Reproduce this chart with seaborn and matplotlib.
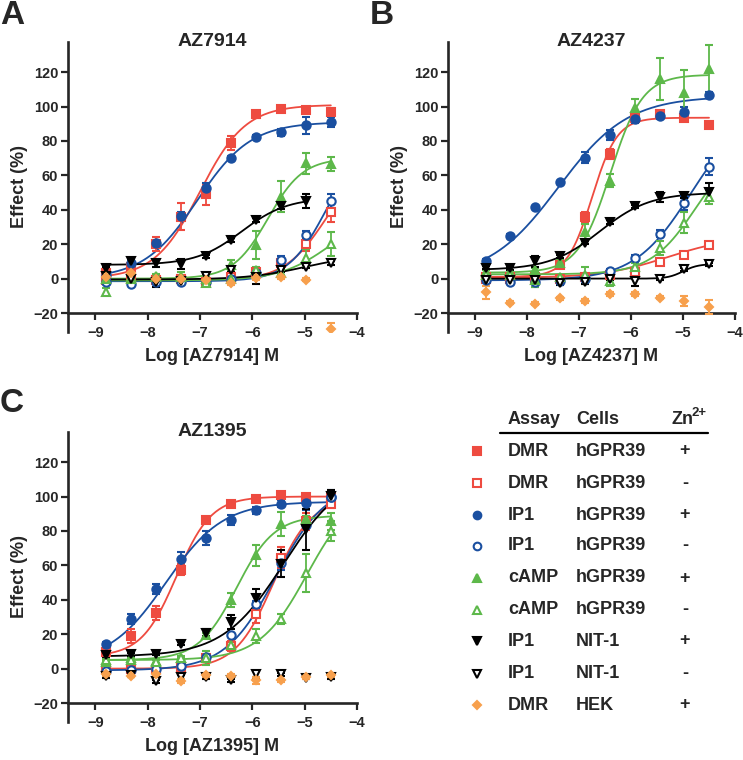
import numpy as np
import pandas as pd
import seaborn as sns
import matplotlib.pyplot as plt
from matplotlib.lines import Line2D

sns.set_style('ticks')
plt.rcParams['font.family'] = ['Liberation Sans', 'DejaVu Sans']
plt.rcParams['font.weight'] = 'bold'
plt.rcParams['axes.labelweight'] = 'bold'

# log concentrations (3-fold dilutions from 31.6 uM)
LOGC = [-8.79, -8.32, -7.84, -7.36, -6.89, -6.41, -5.93, -5.45, -4.98, -4.5]

SERIES = ['DMR_P', 'DMR_N', 'IP1_P', 'IP1_N', 'CAMP_P', 'CAMP_N', 'NIT_P', 'NIT_N', 'HEK']
ASSAY = ['DMR', 'DMR', 'IP1', 'IP1', 'cAMP', 'cAMP', 'IP1', 'IP1', 'DMR']
CELLS = ['hGPR39', 'hGPR39', 'hGPR39', 'hGPR39', 'hGPR39', 'hGPR39', 'NIT-1', 'NIT-1', 'HEK']
ZINC = ['+', '-', '+', '-', '+', '-', '+', '-', '+']

RED, BLUE, GREEN, ORANGE = '#EE4B40', '#1A4FA0', '#5DB84A', '#F7A04D'
COLORS = [RED, RED, BLUE, BLUE, GREEN, GREEN, 'black', 'black', ORANGE]
MARKERS = ['s', 's', 'o', 'o', '^', '^', 'v', 'v', 'D']
FILLED = [True, False, True, False, True, False, True, False, True]

nan = np.nan

# ---- panel A: AZ7914
A_DMR_P = [3, 7, 20, 36, 49, 79, 95.5, 98.4, 98, 97]
A_DMR_N = [-1, 0, -1, 0, -2, 1, 4, 9, 20, 39]
A_IP1_P = [2, 9, 20.6, 36.5, 52.5, 70.3, 82.5, 85, 89, 91]
A_IP1_N = [-2, -3, -2, -2, -2, 0, 3, 11, 25.5, 45]
A_CAMP_P = [0, 1, 1.8, 1, 0, 8, 19.6, 47.7, 67, 66.4]
A_CAMP_N = [-7.5, 0, 1, 1, -2.4, 0, 5, 3, 12, 20]
A_NIT_P = [6, 10, 9, 8.6, 13, 22.5, 34, 42.5, 45, nan]
A_NIT_N = [1.5, -0.4, -2, -1.3, 1.5, 5, 1, 5, 7, 9]
A_HEK = [1, 3, 0, 0, -1, -2.5, 0.5, 1, -0.5, -29.5]
A_ERR = {
    'DMR_P': [1, 2, 4, 8, 6, 4, 2, 1, 2, 2],
    'DMR_N': [1, 1, 1, 1, 1, 1, 2, 2, 4, 6],
    'IP1_P': [1, 2, 2, 2, 3, 1, 1, 2, 5, 3],
    'IP1_N': [1, 1, 1, 1, 1, 1, 2, 2, 2, 4],
    'CAMP_P': [1, 1, 1, 1, 1, 3, 8, 9, 6, 4],
    'CAMP_N': [2, 1, 1, 3, 1, 1, 2, 2, 5, 7],
    'NIT_P': [1, 2, 2, 3, 1, 1, 1, 2, 4, nan],
    'NIT_N': [1, 1, 3, 1, 1, 1, 4, 1, 1, 1],
    'HEK': [1, 1, 1, 1, 1, 1, 1, 1, 1, 4],
}
# fitted curve parameters: bottom, top, logEC50, hill
A_FIT = {
    'DMR_P': (0, 101, -7.0, 1.0),
    'DMR_N': (-1, 70, -4.6, 1.1),
    'IP1_P': (0, 91, -7.05, 0.85),
    'IP1_N': (-1.5, 80, -4.6, 1.2),
    'CAMP_P': (0, 70, -5.7, 1.3),
    'CAMP_N': (-1, 40, -4.5, 0.9),
    'NIT_P': (8, 47, -6.2, 1.0),
    'NIT_N': (-0.5, 14, -5.0, 0.8),
}

# ---- panel B: AZ4237
B_DMR_P = [1, 1, 1, 8, 36, 72.4, 93.6, 95.4, 93.6, 89]
B_DMR_N = [0, 0, 0, 0, 1, 2, 4, 9.7, 13.7, 19.5]
B_IP1_P = [10.5, 24.8, 41.5, 56, 70.3, 83.5, 92.7, 94.5, 96.6, 106.7]
B_IP1_N = [-1, -2, -2, -1.3, 0, 4.6, 12, 26, 44, 65]
B_CAMP_P = [4, 4, 5, 9, 27, 57, 99.4, 116, 108, 122]
B_CAMP_N = [2, 2, -1, 1, 2, -1.5, 7, 17.6, 32.5, 47.6]
B_NIT_P = [6.4, 6, 10, 13, 21, 33, 42, 47.5, 48, 50.5]
B_NIT_N = [-1, -1, -1, -2.7, -2, 0, -1.3, 0, 5.4, 8.3]
B_HEK = [-8, -14, -14.5, -11.5, -13, -9, -9, -11, -13, -16.5]
B_ERR = {
    'DMR_P': [1, 1, 1, 1, 3, 3, 1, 1, 1, 1],
    'DMR_N': [1, 1, 1, 1, 1, 1, 1, 1, 1, 1],
    'IP1_P': [1, 1, 1, 1, 3, 3, 2, 2, 3, 2],
    'IP1_N': [1, 1, 3, 1, 1, 1, 2, 2, 4, 5],
    'CAMP_P': [1, 1, 1, 2, 5, 4, 5, 12, 13, 14],
    'CAMP_N': [1, 1, 4, 1, 5, 3, 2, 4, 6, 4],
    'NIT_P': [1, 1, 3, 1, 1, 1, 1, 3, 1, 5],
    'NIT_N': [1, 1, 1, 1, 1, 1, 3, 1, 1, 1],
    'HEK': [4, 1, 1, 1, 1, 1, 1, 1, 3, 4],
}
B_FIT = {
    'DMR_P': (1, 93.5, -6.75, 1.8),
    'DMR_N': (0.5, 24.5, -5.3, 0.7),
    'IP1_P': (0, 106, -7.4, 0.65),
    'IP1_N': (-1, 100, -4.85, 0.8),
    'CAMP_P': (3.5, 118.5, -6.4, 1.4),
    'CAMP_N': (2.5, 80, -4.75, 1.0),
    'NIT_P': (5, 50, -6.6, 0.9),
    'NIT_N': (0, 8.5, -5.0, 3.0),
}

# ---- panel C: AZ1395
C_DMR_P = [9.7, 19, 32.5, 57.6, 86.3, 95.4, 98.6, 101, 100, 100]
C_DMR_N = [0, 0, 0, 1, 6, 13, 31.5, 64.4, 85.7, 95.4]
C_IP1_P = [14.5, 29, 46.4, 63.8, 76, 86.3, 92, 95.7, 96, 100]
C_IP1_N = [-1.4, -1, 0, 1.5, 7, 19.3, 37.3, 61.5, 83.7, 100]
C_CAMP_P = [4, 6, 4.5, 6.4, 19.5, 39.7, 65.8, 84, 86.7, 85.7]
C_CAMP_N = [5, 5, 4, 6, 6, 13.5, 19, 29, 55.7, 80]
C_NIT_P = [7.7, 8.3, 8.7, 14.5, 21, 27, 41, 61, 81, 100.6]
C_NIT_N = [-4.3, -3.7, -7.4, -4.8, -4.8, -6.8, -3.3, -3.3, -5.2, -4.8]
C_HEK = [-3, -4, -3, -7.2, -3.9, -4, -6.8, -6.8, -4.8, -3.9]
C_ERR = {
    'DMR_P': [1, 4, 4, 3, 1, 1, 1, 1, 1, 1],
    'DMR_N': [1, 1, 1, 1, 1, 3, 5, 6, 5, 2],
    'IP1_P': [1, 3, 3, 4, 4, 3, 2, 2, 4, 3],
    'IP1_N': [1, 1, 1, 1, 1, 1, 2, 4, 2, 4],
    'CAMP_P': [1, 1, 1, 1, 1, 4, 6, 7, 2, 5],
    'CAMP_N': [1, 1, 1, 1, 4, 1, 4, 3, 11, 6],
    'NIT_P': [1, 1, 1, 1, 2, 4, 5, 8, 12, 3],
    'NIT_N': [1, 1, 1, 1, 1, 1, 2, 1, 1, 1],
    'HEK': [1, 1, 1, 1, 1, 1, 2, 1, 1, 1],
}
C_FIT = {
    'DMR_P': (7, 100, -7.45, 1.3),
    'DMR_N': (0, 99, -5.6, 1.2),
    'IP1_P': (3, 97, -7.65, 0.8),
    'IP1_N': (-1, 108, -5.55, 0.9),
    'CAMP_P': (5, 89, -6.3, 1.2),
    'CAMP_N': (5, 105, -4.95, 0.95),
    'NIT_P': (7, 115, -5.4, 0.75),
}

PANELS = [
    ('A', 'AZ7914', [A_DMR_P, A_DMR_N, A_IP1_P, A_IP1_N, A_CAMP_P, A_CAMP_N, A_NIT_P, A_NIT_N, A_HEK], A_ERR, A_FIT,
     [68 / 743, 1 - 332 / 760, 289 / 743, 290 / 760]),
    ('B', 'AZ4237', [B_DMR_P, B_DMR_N, B_IP1_P, B_IP1_N, B_CAMP_P, B_CAMP_N, B_NIT_P, B_NIT_N, B_HEK], B_ERR, B_FIT,
     [448 / 743, 1 - 332 / 760, 287 / 743, 290 / 760]),
    ('C', 'AZ1395', [C_DMR_P, C_DMR_N, C_IP1_P, C_IP1_N, C_CAMP_P, C_CAMP_N, C_NIT_P, C_NIT_N, C_HEK], C_ERR, C_FIT,
     [68 / 743, 1 - 722 / 760, 289 / 743, 290 / 760]),
]


def logistic(x, bottom, top, ec50, hill):
    return bottom + (top - bottom) / (1 + 10 ** ((ec50 - x) * hill))


fig = plt.figure(figsize=(7.43, 7.6), dpi=100)

for letter, drug, values, errs, fits, rect in PANELS:
    ax = fig.add_axes(rect)
    # fitted curves first
    for i, key in enumerate(SERIES):
        if key not in fits:
            continue
        y = np.array(values[i], dtype=float)
        xs = np.array(LOGC)[~np.isnan(y)]
        xx = np.linspace(xs.min(), xs.max(), 200)
        df = pd.DataFrame({'logc': xx, 'effect': logistic(xx, *fits[key])})
        sns.lineplot(data=df, x='logc', y='effect', ax=ax, color=COLORS[i], lw=1.3, zorder=2)
    # points with error bars
    for i, key in enumerate(SERIES):
        ms = 4.5 if MARKERS[i] == 'D' else 6
        ax.errorbar(LOGC, values[i], yerr=errs[key], fmt=MARKERS[i], color=COLORS[i],
                    mfc=COLORS[i] if FILLED[i] else 'white', mec=COLORS[i], mew=1.5,
                    ms=ms, ecolor=COLORS[i], elinewidth=1.3, capsize=3, capthick=1.3, zorder=3)

    ax.set_xlim(-9.52, -4.0)
    ax.set_ylim(-31, 137.5)
    ax.set_xticks(range(-9, -3))
    ax.set_yticks(range(-20, 121, 20))
    ax.spines['bottom'].set_position(('data', -20))
    ax.spines['top'].set_visible(False)
    ax.spines['right'].set_visible(False)
    for s in ('left', 'bottom'):
        ax.spines[s].set_linewidth(1.9)
    ax.tick_params(width=1.6, length=5, labelsize=10.5, pad=2)
    ax.tick_params(axis='x', pad=4)
    ax.set_xlabel(f'Log [{drug}] M', fontsize=13, labelpad=6)
    ax.set_ylabel('Effect (%)', fontsize=13, labelpad=4)
    ax.text(0.5, 1.0, drug, transform=ax.transAxes, ha='center', va='center', fontsize=14, fontweight='bold')
    ax.patch.set_alpha(0)

# panel letters
fig.text(0 / 743, 1 - 15 / 760, 'A', fontsize=24, fontweight='bold', va='center', ha='left')
fig.text(370 / 743, 1 - 15 / 760, 'B', fontsize=24, fontweight='bold', va='center', ha='left')
fig.text(0 / 743, 1 - 404 / 760, 'C', fontsize=24, fontweight='bold', va='center', ha='left')

# legend table drawn in pixel coordinates
lg = fig.add_axes([0, 0, 1, 1])
lg.set_xlim(0, 743)
lg.set_ylim(760, 0)
lg.axis('off')
lg.patch.set_alpha(0)

ROW_Y = [451, 483, 515, 546, 578, 610, 641, 674, 705]
lg.text(508, 420, 'Assay', fontsize=13, fontweight='bold', va='center', ha='left')
lg.text(576, 420, 'Cells', fontsize=13, fontweight='bold', va='center', ha='left')
lg.text(671, 420, 'Zn', fontsize=13, fontweight='bold', va='center', ha='left')
lg.text(692, 413, '2+', fontsize=9.5, fontweight='bold', va='center', ha='left')
lg.add_line(Line2D([500, 708], [433, 433], color='black', lw=1.6))
for i in range(len(SERIES)):
    y = ROW_Y[i]
    ms = 4.5 if MARKERS[i] == 'D' else 5.5
    lg.plot([477], [y], marker=MARKERS[i], color=COLORS[i], ms=ms, mew=1.5,
            mfc=COLORS[i] if FILLED[i] else 'white', mec=COLORS[i])
    lg.text(508, y, ASSAY[i], fontsize=13, fontweight='bold', va='center', ha='left')
    lg.text(576, y, CELLS[i], fontsize=13, fontweight='bold', va='center', ha='left')
    lg.text(685, y, ZINC[i], fontsize=13, fontweight='bold', va='center', ha='center')

fig.savefig('out.png', dpi=100)
